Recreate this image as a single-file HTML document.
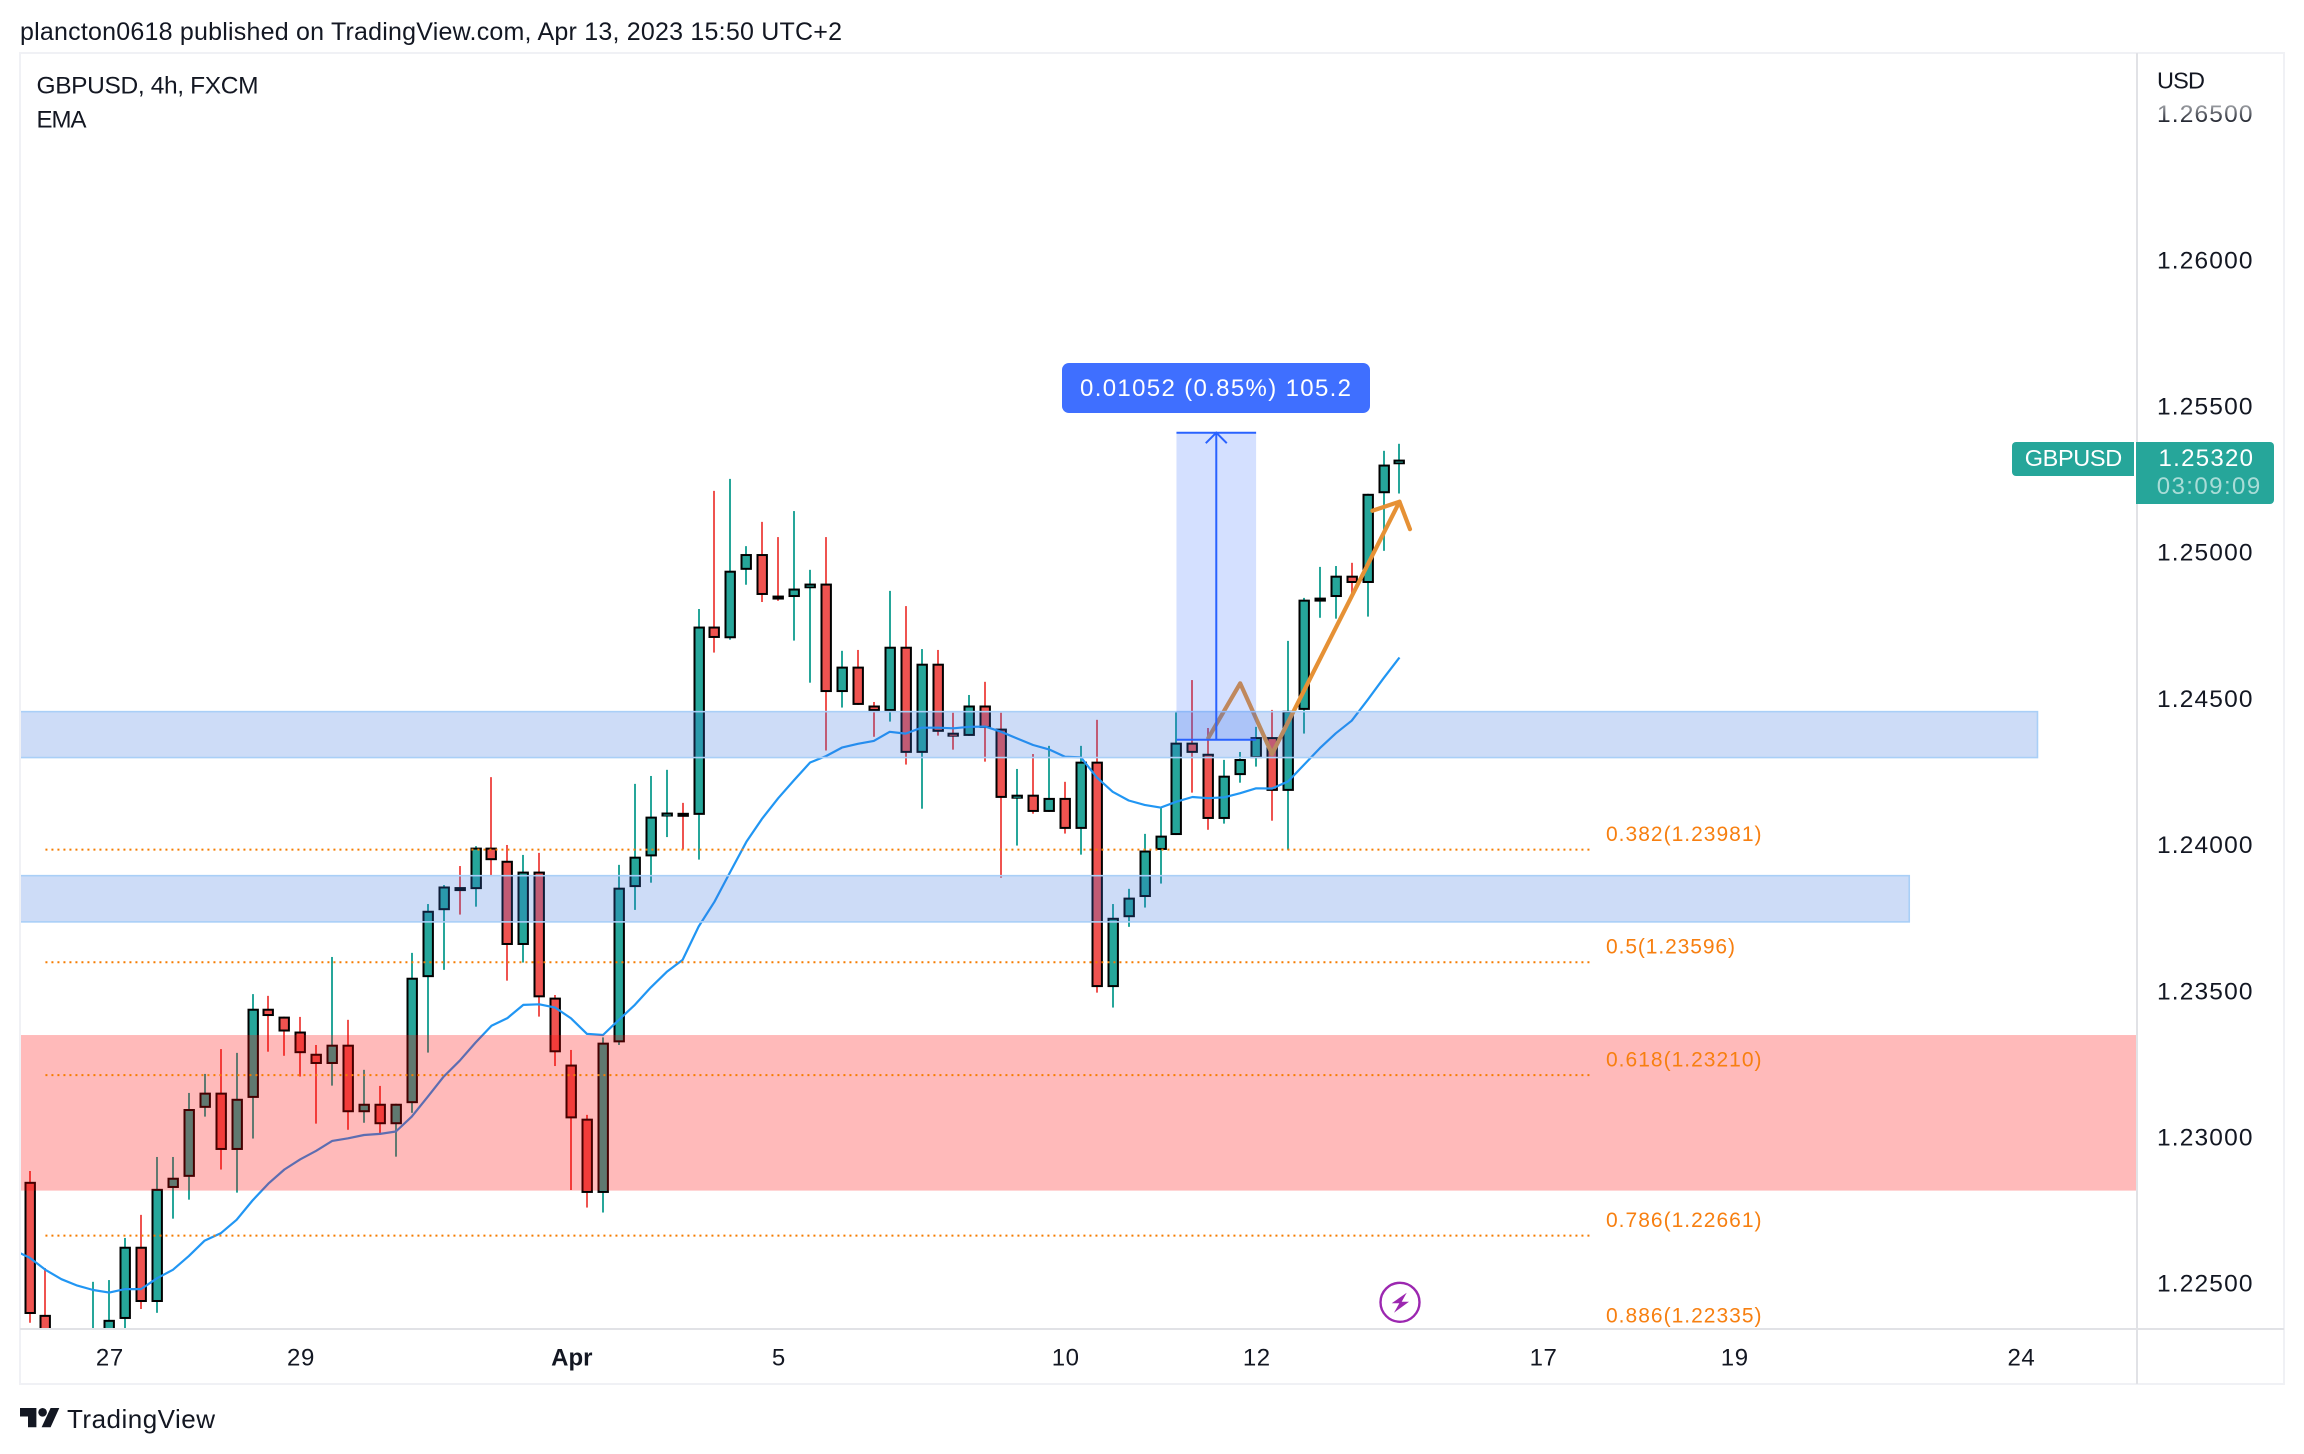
<!DOCTYPE html>
<html lang="en">
<head>
<meta charset="utf-8">
<title>GBPUSD 4h chart</title>
<style>
html,body{margin:0;padding:0;background:#fff;}
svg{display:block;}
text{font-family:"Liberation Sans",sans-serif;fill:#131722;}
</style>
</head>
<body>
<svg id="chart" xmlns="http://www.w3.org/2000/svg" width="2304" height="1454" viewBox="0 0 2304 1454">
  <defs>
    <clipPath id="plot-clip"><rect x="21" y="54" width="2115" height="1274"/></clipPath>
    <linearGradient id="fade-tick" gradientUnits="userSpaceOnUse" x1="0" y1="102" x2="0" y2="124">
      <stop offset="0" stop-color="#b4b6ba"/><stop offset="1" stop-color="#131722"/>
    </linearGradient>
  </defs>

  <rect x="0" y="0" width="2304" height="1454" fill="#ffffff"/>
  <text x="20" y="40" font-size="25" textLength="822" lengthAdjust="spacing">plancton0618 published on TradingView.com, Apr 13, 2023 15:50 UTC+2</text>

  <g id="plot" clip-path="url(#plot-clip)">
    <g id="candles"></g>
    <path id="ema-line" fill="none" stroke="#2196f3" stroke-width="2.2" stroke-linejoin="round"/>
    <polyline id="zigzag" fill="none" stroke="#e69135" stroke-width="4.2" stroke-linejoin="round" stroke-linecap="round"/>
    <polyline id="zigzag-head" fill="none" stroke="#e69135" stroke-width="4.2" stroke-linejoin="round" stroke-linecap="round"/>
    <g id="zones"></g>
    <g id="measure"></g>
    <g id="fibs"></g>
  </g>

  <rect x="1062" y="363" width="308" height="50" rx="7" fill="#3f6fff"/>
  <text x="1080" y="396" font-size="24" textLength="271" lengthAdjust="spacing" style="fill:#ffffff">0.01052 (0.85%) 105.2</text>

  <text x="36.5" y="93.5" font-size="24.5" textLength="222" lengthAdjust="spacing">GBPUSD, 4h, FXCM</text>
  <text x="36.5" y="127.5" font-size="24" textLength="50" lengthAdjust="spacing">EMA</text>

  <g>
    <circle cx="1400" cy="1302.3" r="19.5" fill="#ffffff" stroke="#9c27b0" stroke-width="2.4"/>
    <polygon points="1406.7,1292.7 1391.7,1303.3 1399.3,1303.3 1394,1312.7 1409,1301.7 1401.7,1301.7" fill="#9c27b0"/>
  </g>

  <g fill="none">
    <rect x="20" y="53" width="2264" height="1331" stroke="#f0f1f5" stroke-width="2"/>
    <line x1="2137" y1="53" x2="2137" y2="1384" stroke="#e1e2e6" stroke-width="2"/>
    <line x1="20" y1="1329" x2="2284" y2="1329" stroke="#e1e2e6" stroke-width="2"/>
  </g>

  <g id="price-axis"></g>
  <g id="time-axis"></g>
  <text x="2157" y="88.5" font-size="23.5" textLength="48" lengthAdjust="spacing">USD</text>

  <path d="M2016 442H2134V476H2016a4 4 0 0 1-4-4V446a4 4 0 0 1 4-4z" fill="#26a69a"/>
  <text x="2024.7" y="466" font-size="23.5" textLength="97.5" lengthAdjust="spacing" style="fill:#ffffff">GBPUSD</text>
  <path d="M2136 442H2270a4 4 0 0 1 4 4V500a4 4 0 0 1-4 4H2136z" fill="#26a69a"/>
  <text x="2158.5" y="466" font-size="24" textLength="94.5" lengthAdjust="spacing" style="fill:#ffffff">1.25320</text>
  <text x="2156.7" y="494" font-size="24" textLength="103.5" lengthAdjust="spacing" style="fill:#a9dcd7">03:09:09</text>

  <g>
    <polygon points="20,1408 36.4,1408 36.4,1427.3 28,1427.3 28,1416.5 20,1416.5" fill="#131722"/>
    <circle cx="42.6" cy="1412.3" r="4.3" fill="#131722"/>
    <polygon points="59.3,1408 50.6,1408 41.6,1427.3 50.6,1427.3" fill="#131722"/>
    <text x="67" y="1428" font-size="26" textLength="148" lengthAdjust="spacing">TradingView</text>
  </g>
</svg>

<script>
// ---- chart data ----
const opens = [1.22845,1.22390,1.22270,1.22230,1.22200,1.22304,1.22376,1.22623,1.22434,1.22824,
1.22862,1.23098,1.23150,1.22954,1.23132,1.23437,1.23410,1.23359,1.23283,1.23248,
1.23314,1.23083,1.23112,1.23042,1.23114,1.23545,1.23774,1.23853,1.23846,1.23988,
1.23943,1.23655,1.23906,1.23475,1.23246,1.23061,1.22807,1.23322,1.23853,1.23958,
1.24095,1.24107,1.24100,1.24744,1.24704,1.24938,1.24992,1.24850,1.24845,1.24875,
1.24891,1.24520,1.24607,1.24474,1.24455,1.24675,1.24312,1.24617,1.24381,1.24370,
1.24474,1.24395,1.24158,1.24169,1.24110,1.24158,1.24052,1.24282,1.23511,1.23750,
1.23819,1.23980,1.24031,1.24347,1.24309,1.24086,1.24236,1.24294,1.24366,1.24182,
1.24459,1.24838,1.24845,1.24918,1.24893,1.25200,1.25299];
const highs = [1.22882,1.22550,1.22321,1.22310,1.22503,1.22509,1.22653,1.22732,1.22930,1.22930,
1.23149,1.23214,1.23299,1.23286,1.23487,1.23481,1.23410,1.23409,1.23313,1.23614,
1.23399,1.23228,1.23173,1.23112,1.23628,1.23795,1.23860,1.23925,1.23993,1.24229,
1.23997,1.23963,1.23970,1.23484,1.23296,1.23074,1.23339,1.23929,1.24206,1.24233,
1.24254,1.24141,1.24804,1.25208,1.25249,1.25019,1.25102,1.25050,1.25139,1.24938,
1.25050,1.24661,1.24664,1.24486,1.24866,1.24814,1.24667,1.24664,1.24449,1.24510,
1.24555,1.24449,1.24257,1.24308,1.24336,1.24213,1.24336,1.24425,1.23795,1.23847,
1.24035,1.24128,1.24451,1.24561,1.24397,1.24288,1.24315,1.24401,1.24459,1.24695,
1.24842,1.24948,1.24951,1.24962,1.25198,1.25345,1.25369];
const lows = [1.22363,1.22202,1.22180,1.22150,1.22150,1.22250,1.22300,1.22410,1.22397,1.22719,
1.22784,1.23068,1.22887,1.22808,1.22993,1.23290,1.23276,1.23205,1.23044,1.23174,
1.23023,1.23047,1.23009,1.22931,1.23081,1.23287,1.23570,1.23759,1.23786,1.23894,
1.23533,1.23595,1.23410,1.23241,1.22817,1.22757,1.22740,1.23313,1.23775,1.23868,
1.24024,1.23982,1.23947,1.24655,1.24699,1.24887,1.24828,1.24832,1.24696,1.24552,
1.24320,1.24467,1.24476,1.24367,1.24419,1.24272,1.24121,1.24371,1.24323,1.24370,
1.24282,1.23885,1.23995,1.24104,1.24110,1.24036,1.23964,1.23492,1.23441,1.23717,
1.23783,1.23865,1.24031,1.24176,1.24049,1.24070,1.24210,1.24265,1.24080,1.23981,
1.24378,1.24774,1.24771,1.24856,1.24778,1.25003,1.25199];
const closes = [1.22393,1.22270,1.22230,1.22200,1.22304,1.22373,1.22623,1.22434,1.22821,1.22859,
1.23094,1.23150,1.22954,1.23129,1.23437,1.23412,1.23359,1.23285,1.23248,1.23314,
1.23083,1.23112,1.23042,1.23112,1.23543,1.23772,1.23855,1.23849,1.23988,1.23945,
1.23655,1.23906,1.23476,1.23288,1.23062,1.22807,1.23321,1.23851,1.23957,1.24094,
1.24108,1.24102,1.24744,1.24705,1.24935,1.24992,1.24852,1.24845,1.24874,1.24891,
1.24520,1.24607,1.24476,1.24455,1.24675,1.24312,1.24617,1.24384,1.24370,1.24474,
1.24397,1.24158,1.24169,1.24110,1.24158,1.24052,1.24282,1.23511,1.23748,1.23817,
1.23978,1.24029,1.24347,1.24312,1.24086,1.24234,1.24291,1.24366,1.24182,1.24456,
1.24836,1.24843,1.24918,1.24893,1.25198,1.25298,1.25315];
// ema[0] belongs to the bar just before the first visible one
const ema = [1.22612,1.22586,1.22544,1.22512,1.22490,1.22475,1.22466,1.22478,1.22478,1.22515,
1.22544,1.22591,1.22644,1.22669,1.22715,1.22781,1.22839,1.22887,1.22922,1.22951,
1.22985,1.22994,1.23005,1.23009,1.23017,1.23068,1.23136,1.23205,1.23259,1.23321,
1.23379,1.23405,1.23450,1.23452,1.23441,1.23404,1.23351,1.23347,1.23399,1.23450,
1.23510,1.23563,1.23604,1.23718,1.23803,1.23906,1.24008,1.24088,1.24157,1.24219,
1.24279,1.24301,1.24330,1.24343,1.24353,1.24384,1.24378,1.24398,1.24398,1.24396,
1.24401,1.24402,1.24384,1.24361,1.24339,1.24324,1.24299,1.24297,1.24228,1.24179,
1.24149,1.24134,1.24125,1.24145,1.24161,1.24157,1.24160,1.24174,1.24191,1.24190,
1.24214,1.24271,1.24328,1.24379,1.24422,1.24493,1.24567,1.24638];

const priceTicks = [1.265,1.26,1.255,1.25,1.245,1.24,1.235,1.23,1.225];
const timeLabels = ['27','29','Apr','5','10','12','17','19','24'];
const timeBars = [5,17,34,47,65,77,95,107,125];

const fibRatios = ['0.382','0.5','0.618','0.786','0.886'];
const fibPrices = [1.23981,1.23596,1.23210,1.22661,1.22335];
const fibBarStart = 1;
const fibBarEnd = 98;

const blueZoneTops = [1.24453,1.23892];
const blueZoneBottoms = [1.24296,1.23734];
const blueZoneEndBars = [126.05,118];
const redZoneTop = 1.23347;
const redZoneBottom = 1.22815;

const measureBars = [72,77];
const measurePrices = [1.25407,1.24357];

const zigzagBars = [74,76,78,86];
const zigzagPrices = [1.24363,1.24550,1.24308,1.25171];
const headBars = [84.3,86,86.66];
const headPrices = [1.25140,1.25171,1.25077];

// ---- axis functions ----
function xBar(i){ return 29.5 + 15.93 * i; }
function yPrice(p){ return 844.1 - (p - 1.24) * 29240; }

const NS = 'http://www.w3.org/2000/svg';
function mk(tag, parent, attrs){
  const el = document.createElementNS(NS, tag);
  for (const k in attrs) el.setAttribute(k, attrs[k]);
  parent.appendChild(el);
  return el;
}

// ---- candles ----
const UP = '#26a69a', DOWN = '#ef5350';
const candleLayer = document.getElementById('candles');
opens.forEach(function(o, i){
  const c = closes[i], up = c >= o, col = up ? UP : DOWN;
  const X = Math.round(xBar(i));
  const top = yPrice(Math.max(o, c)), bot = yPrice(Math.min(o, c));
  const g = mk('g', candleLayer, {});
  
  
  const wick = mk('rect', g, {x: X - 1, y: yPrice(highs[i]), width: 2, height: Math.max(0, yPrice(lows[i]) - yPrice(highs[i])), fill: col});
  
  
  const h = Math.max(bot - top, 4);
  const outline = mk('rect', g, {x: X - 5.5, y: top, width: 11.4, height: h, fill: '#000000'});
  
  
  if (bot - top > 3) {
    const body = mk('rect', g, {x: X - 3.5, y: top + 2, width: 7.4, height: Math.max(1, h - 4), fill: col});
    
    
  }
});

// ---- EMA ----
document.getElementById('ema-line').setAttribute('d', ema.map(function(v, i){
  return (i ? 'L' : 'M') + xBar(i - 1).toFixed(1) + ' ' + yPrice(v).toFixed(1);
}).join(''));

// ---- projection path ----
document.getElementById('zigzag').setAttribute('points', zigzagBars.map(function(b, i){
  return xBar(b).toFixed(1) + ',' + yPrice(zigzagPrices[i]).toFixed(1);
}).join(' '));
document.getElementById('zigzag-head').setAttribute('points', headBars.map(function(b, i){
  return xBar(b).toFixed(1) + ',' + yPrice(headPrices[i]).toFixed(1);
}).join(' '));

// ---- zones ----
const zoneLayer = document.getElementById('zones');
const redZone = mk('rect', zoneLayer, {x: 20, y: yPrice(redZoneTop), width: 2117, height: yPrice(redZoneBottom) - yPrice(redZoneTop), fill: 'rgba(255,0,0,0.27)'});


blueZoneTops.forEach(function(t, i){
  const r = mk('rect', zoneLayer, {x: 10, y: yPrice(t), width: xBar(blueZoneEndBars[i]) - 10, height: yPrice(blueZoneBottoms[i]) - yPrice(t), fill: 'rgba(56,116,224,0.25)', stroke: '#a9cff7', 'stroke-width': 1.6});
  
  
});

// ---- measure tool ----
const mLayer = document.getElementById('measure');
const mx0 = xBar(measureBars[0]), mx1 = xBar(measureBars[1]);
const my0 = yPrice(measurePrices[0]), my1 = yPrice(measurePrices[1]);
const mBox = mk('rect', mLayer, {x: mx0, y: my0, width: mx1 - mx0, height: my1 - my0, fill: 'rgba(41,98,255,0.2)'});


const mid = (mx0 + mx1) / 2;
const mTop = mk('line', mLayer, {x1: mx0, y1: my0, x2: mx1, y2: my0, stroke: '#2962ff', 'stroke-width': 2});


const mBot = mk('line', mLayer, {x1: mx0, y1: my1, x2: mx1, y2: my1, stroke: '#2962ff', 'stroke-width': 2});


const mArrow = mk('line', mLayer, {x1: mid, y1: my1, x2: mid, y2: my0, stroke: '#2962ff', 'stroke-width': 2});


const mHead = mk('polyline', mLayer, {points: (mid - 10.5) + ',' + (my0 + 10.5) + ' ' + mid + ',' + my0 + ' ' + (mid + 10.5) + ',' + (my0 + 10.5), fill: 'none', stroke: '#2962ff', 'stroke-width': 2});



// ---- fibonacci levels ----
const fibLayer = document.getElementById('fibs');
fibPrices.forEach(function(p, i){
  const y = yPrice(p);
  const line = mk('line', fibLayer, {x1: xBar(fibBarStart), y1: y, x2: xBar(fibBarEnd), y2: y, stroke: '#f57c00', 'stroke-width': 2, 'stroke-dasharray': '2 4'});
  
  
  const t = mk('text', fibLayer, {x: 1606, y: y - 8.6, 'font-size': 21, textLength: fibRatios[i].length === 3 ? 129 : 155.5, lengthAdjust: 'spacing', style: 'fill:#f77f10'});
  t.textContent = fibRatios[i] + '(' + p.toFixed(5) + ')';
  
  
});

// ---- price axis ----
const pAxis = document.getElementById('price-axis');
priceTicks.forEach(function(p){
  const t = mk('text', pAxis, {x: 2157, y: yPrice(p) + 9, 'font-size': 24.5, textLength: 95.5, lengthAdjust: 'spacing'});
  if (p === 1.265) t.setAttribute('style', 'fill:url(#fade-tick)');
  t.textContent = p.toFixed(5);
  
  
});

// ---- time axis ----
const tAxis = document.getElementById('time-axis');
timeLabels.forEach(function(label, i){
  const bold = label === 'Apr';
  const t = mk('text', tAxis, {x: xBar(timeBars[i]) + 0.7, y: 1365.7, 'font-size': 24, 'text-anchor': 'middle', 'letter-spacing': bold ? 0 : 0.6, 'font-weight': bold ? 'bold' : 'normal'});
  t.textContent = label;
  
  
});
</script>
</body>
</html>
